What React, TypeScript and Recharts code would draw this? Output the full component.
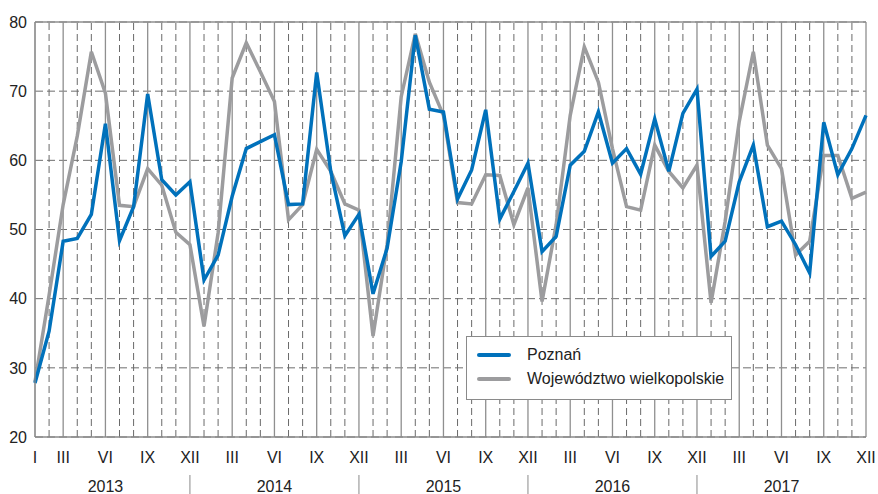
import React from "react";
import { LineChart, Line, XAxis, YAxis, CartesianGrid, ReferenceLine } from "recharts";

const years = [2013, 2014, 2015, 2016, 2017];
const romanMonths = ["I", "II", "III", "IV", "V", "VI", "VII", "VIII", "IX", "X", "XI", "XII"];
const yTicks = [20, 30, 40, 50, 60, 70, 80];

// monthly values, Jan 2013 - Dec 2017
const poznan = [
  27.8, 35.3, 48.3, 48.7, 52.2, 65.3, 48.4, 53.3, 69.6, 57.2, 55.0, 56.9,
  42.7, 46.3, 54.8, 61.7, 62.7, 63.7, 53.6, 53.7, 72.7, 58.4, 49.1, 52.2,
  40.7, 47.3, 59.8, 78.1, 67.4, 67.0, 54.4, 58.6, 67.3, 51.5, 55.5, 59.6,
  46.8, 49.0, 59.3, 61.3, 67.0, 59.6, 61.7, 58.0, 66.0, 58.4, 66.8, 70.3,
  46.1, 48.3, 56.9, 62.2, 50.4, 51.2, 47.8, 43.7, 65.5, 57.9, 61.7, 66.5,
];
const wojewodztwo = [
  28.0, 40.5, 53.6, 63.5, 75.7, 69.7, 53.5, 53.3, 58.8, 56.4, 49.6, 47.8,
  36.0, 49.5, 71.9, 77.0, 72.8, 68.5, 51.4, 53.6, 61.6, 58.4, 53.7, 52.8,
  34.6, 47.8, 69.2, 78.3, 71.3, 66.5, 53.9, 53.7, 57.9, 57.8, 50.7, 56.0,
  39.6, 50.7, 66.5, 76.4, 71.3, 61.7, 53.3, 52.8, 62.2, 58.4, 56.0, 59.3,
  39.4, 51.2, 65.6, 75.7, 62.2, 58.8, 46.3, 48.3, 60.7, 60.7, 54.5, 55.4,
];

const monthKeys = years.flatMap((y) => romanMonths.map((_, i) => `${y}-${i + 1}`));
const data = monthKeys.map((key, i) => ({ key, poznan: poznan[i], woj: wojewodztwo[i] }));

const isQuarter = (key: string) => ["3", "6", "9", "12"].includes(key.split("-")[1]);
const monthTicks = monthKeys.filter((k, i) => i === 0 || isQuarter(k));
const yearTicks = years.flatMap((y) => (y < 2017 ? [`${y}-6`, `${y}-12`] : [`${y}-6`]));

const font = "'Liberation Sans', Arial, sans-serif";
const BLUE = "#0071bb";
const GREY = "#9c9c9e";

const YearTick = (props: any) => {
  const { x, y, payload } = props;
  const [yr, m] = String(payload.value).split("-");
  if (m === "12") {
    return <line x1={x} x2={x} y1={y + 8} y2={y + 28} stroke="#8a8a8a" strokeWidth={1} />;
  }
  return (
    <text x={x} y={y + 25} textAnchor="middle" fontSize={16} fill="#222" fontFamily={font}>
      {yr}
    </text>
  );
};

export default function App() {
  return (
    <div style={{ position: "absolute", left: 0, top: 0, width: 878, height: 494, background: "#fff" }}>
      <LineChart width={878} height={494} data={data} margin={{ top: 22, right: 12, left: 0, bottom: 0 }}>
        <CartesianGrid vertical={false} stroke="#6e6e6e" strokeDasharray="8 4" />
        {monthKeys.map((k, i) => (
          <ReferenceLine
            key={k}
            x={k}
            stroke={isQuarter(k) || i === 0 ? "#8f8f8f" : "#6a6a6a"}
            strokeWidth={isQuarter(k) ? 1.3 : 1}
            strokeDasharray={isQuarter(k) || i === 0 ? undefined : "7 4"}
          />
        ))}
        <ReferenceLine y={80} stroke="#8f8f8f" strokeWidth={1.3} />
        <XAxis
          dataKey="key"
          ticks={monthTicks}
          interval={0}
          height={30}
          tickLine={false}
          tickSize={0}
          tickMargin={15}
          axisLine={{ stroke: "#8a8a8a", strokeWidth: 1.3 }}
          tickFormatter={(v: string) => romanMonths[Number(v.split("-")[1]) - 1]}
          tick={{ fontSize: 16, fill: "#222", fontFamily: font }}
        />
        <XAxis
          xAxisId="year"
          dataKey="key"
          ticks={yearTicks}
          interval={0}
          height={27}
          axisLine={false}
          tickLine={false}
          tickSize={0}
          tickMargin={0}
          tick={<YearTick />}
        />
        <YAxis
          domain={[20, 80]}
          ticks={yTicks}
          width={35}
          tickLine={false}
          tickSize={0}
          tickMargin={8}
          axisLine={{ stroke: "#8a8a8a", strokeWidth: 1.3 }}
          tick={{ fontSize: 16, fill: "#222", fontFamily: font }}
        />
        <Line dataKey="woj" stroke={GREY} strokeWidth={3.5} dot={false} isAnimationActive={false} strokeLinejoin="miter" />
        <Line dataKey="poznan" stroke={BLUE} strokeWidth={3.5} dot={false} isAnimationActive={false} strokeLinejoin="miter" />
      </LineChart>
      <div
        style={{
          position: "absolute",
          left: 466,
          top: 336,
          width: 264,
          height: 62,
          border: "1px solid #8a8a8a",
          background: "#fff",
          fontFamily: font,
          fontSize: 16,
          color: "#222",
        }}
      >
        {[
          { label: "Poznań", color: BLUE },
          { label: "Województwo wielkopolskie", color: GREY },
        ].map((item, i) => (
          <div key={item.label} style={{ position: "absolute", left: 10, top: 8 + i * 24, height: 20, display: "flex", alignItems: "center" }}>
            <span style={{ display: "inline-block", width: 34, height: 4, background: item.color, borderRadius: 2 }} />
            <span style={{ marginLeft: 16, whiteSpace: "nowrap" }}>{item.label}</span>
          </div>
        ))}
      </div>
    </div>
  );
}
